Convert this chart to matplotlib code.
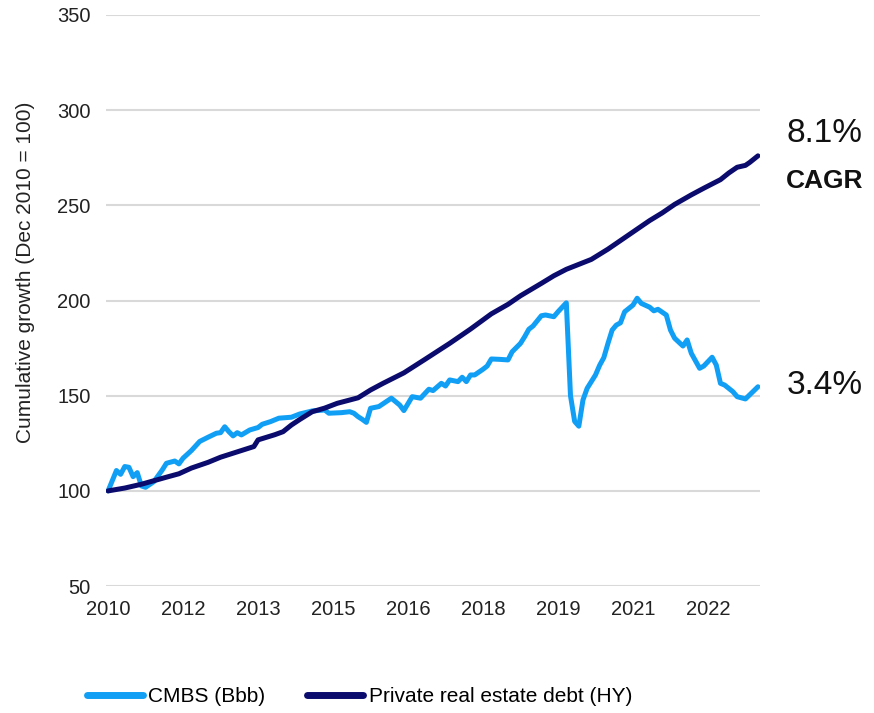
import matplotlib
matplotlib.use('Agg')
import matplotlib.pyplot as plt

# months since Dec 2010
cmbs_month = [0, 2, 3, 4, 5, 6, 7, 8, 9, 11, 13, 14, 16, 17, 18, 20, 22, 24, 26, 27,
              28, 29, 30, 31, 32, 34, 36, 37, 39, 41, 44, 46, 49, 52, 53, 56, 58, 59,
              60, 61, 62, 63, 65, 68, 70, 71, 73, 75, 77, 78, 80, 81, 82, 84, 85, 86,
              87, 88, 90, 91, 92, 94, 96, 97, 99, 100, 101, 102, 104, 105, 107, 108,
              110, 111, 112, 113, 114, 115, 117, 118, 119, 120, 121, 122, 123, 124,
              126, 127, 128, 130, 131, 132, 134, 135, 136, 138, 139, 140, 142, 143,
              145, 146, 147, 148, 150, 151, 153, 156]
cmbs_value = [100, 110.7, 108.7, 112.8, 112.4, 107.5, 109.6, 102.6, 101.9, 104.9, 111,
              114.5, 115.7, 114.2, 117.2, 121.2, 126, 128.2, 130.3, 130.6, 133.7, 131.1,
              128.9, 130.6, 129.4, 132, 133.3, 135, 136.4, 138.2, 138.7, 140.4, 142,
              142.5, 140.8, 141.1, 141.6, 140.8, 139, 137.6, 136, 143.4, 144.3, 148.7,
              145.1, 142.2, 149.5, 148.7, 153.4, 152.7, 156.5, 155.1, 158.3, 157.4,
              159.7, 157.4, 160.9, 160.9, 163.9, 165.6, 169.3, 169.1, 168.8, 173.1,
              177.5, 181, 184.9, 186.6, 192, 192.4, 191.5, 194.1, 198.8, 150, 136.5,
              134, 147.8, 153.9, 160.9, 166, 170, 177.5, 184.5, 187.1, 188.3, 194.1,
              197.6, 201.2, 198.5, 196.5, 194.6, 195.4, 192.4, 184.5, 180.2, 176.1,
              179.3, 172.3, 164.4, 165.6, 170.2, 166.1, 156.5, 155.6, 152.1, 149.5,
              148.3, 154.7]

pred_month = [0, 4, 8, 14, 17, 20, 24, 27, 31, 35, 36, 40, 42, 44, 46, 49, 52, 55, 60,
              63, 66, 71, 76, 82, 87, 92, 96, 99, 104, 107, 110, 113, 116, 120, 123,
              126, 130, 133, 136, 140, 143, 147, 149, 151, 153, 154, 156]
pred_value = [100, 101.5, 103.5, 107.2, 109, 112, 115, 117.7, 120.5, 123.3, 126.8,
              129.5, 131.1, 134.6, 137.5, 141.6, 143.5, 146, 148.9, 153, 156.5, 162,
              169, 177.5, 185, 193, 198, 202.5, 209, 213, 216.4, 219, 221.6, 227, 231.5,
              236, 242, 246, 250.5, 255.5, 259, 263.5, 267, 270, 271, 272.5, 276]

tick_pos = [0, 18, 36, 54, 72, 90, 108, 126, 144]
tick_labels = ['2010', '2012', '2013', '2015', '2016', '2018', '2019', '2021', '2022']
y_ticks = [50, 100, 150, 200, 250, 300, 350]

series_names = ['CMBS (Bbb)', 'Private real estate debt (HY)']
cagr_labels = ['3.4%', '8.1%']

plt.rcParams['font.family'] = ['Liberation Sans', 'DejaVu Sans']

W, H = 874, 713
fig = plt.figure(figsize=(W / 100, H / 100), dpi=100)
ax = fig.add_axes([0.1213, 0.178, 0.7483, 0.801])

ax.plot(cmbs_month, cmbs_value, color='#109ff5', lw=3.6,
        solid_capstyle='round', solid_joinstyle='round', label=series_names[0], zorder=3)
ax.plot(pred_month, pred_value, color='#0b0b6e', lw=3.6,
        solid_capstyle='round', solid_joinstyle='round', label=series_names[1], zorder=4)

ax.set_xlim(-0.5, 156.5)
ax.set_ylim(50, 350)
ax.set_yticks(y_ticks)
ax.set_xticks(tick_pos)
ax.set_xticklabels(tick_labels)
ax.tick_params(axis='both', length=0, labelsize=14.5, colors='#222222')
ax.tick_params(axis='x', pad=10)
ax.tick_params(axis='y', pad=11)
ax.grid(axis='y', color='#d9d9d9', lw=1.5)
ax.set_axisbelow(True)
for s in ax.spines.values():
    s.set_visible(False)

ax.set_ylabel('Cumulative growth (Dec 2010 = 100)', fontsize=15, color='#222222')
ax.yaxis.set_label_coords(-0.108, 0.55)


def fig_xy(px, py):
    return px / W, 1 - py / H


fig.text(*fig_xy(825, 133), cagr_labels[1], fontsize=24, ha='center', va='center',
         color='#111111')
fig.text(*fig_xy(825, 181), 'CAGR', fontsize=19, fontweight='bold', ha='center',
         va='center', color='#111111')
fig.text(*fig_xy(825, 385), cagr_labels[0], fontsize=24, ha='center', va='center',
         color='#111111')

leg = fig.legend(loc='center left', bbox_to_anchor=(0.078, 0.0225), ncol=2, frameon=False,
                 fontsize=15, handlelength=2.7, handletextpad=0.25, columnspacing=2.0)
for line in leg.get_lines():
    line.set_linewidth(5)
    line.set_solid_capstyle('round')

fig.savefig('out.png', dpi=100)
